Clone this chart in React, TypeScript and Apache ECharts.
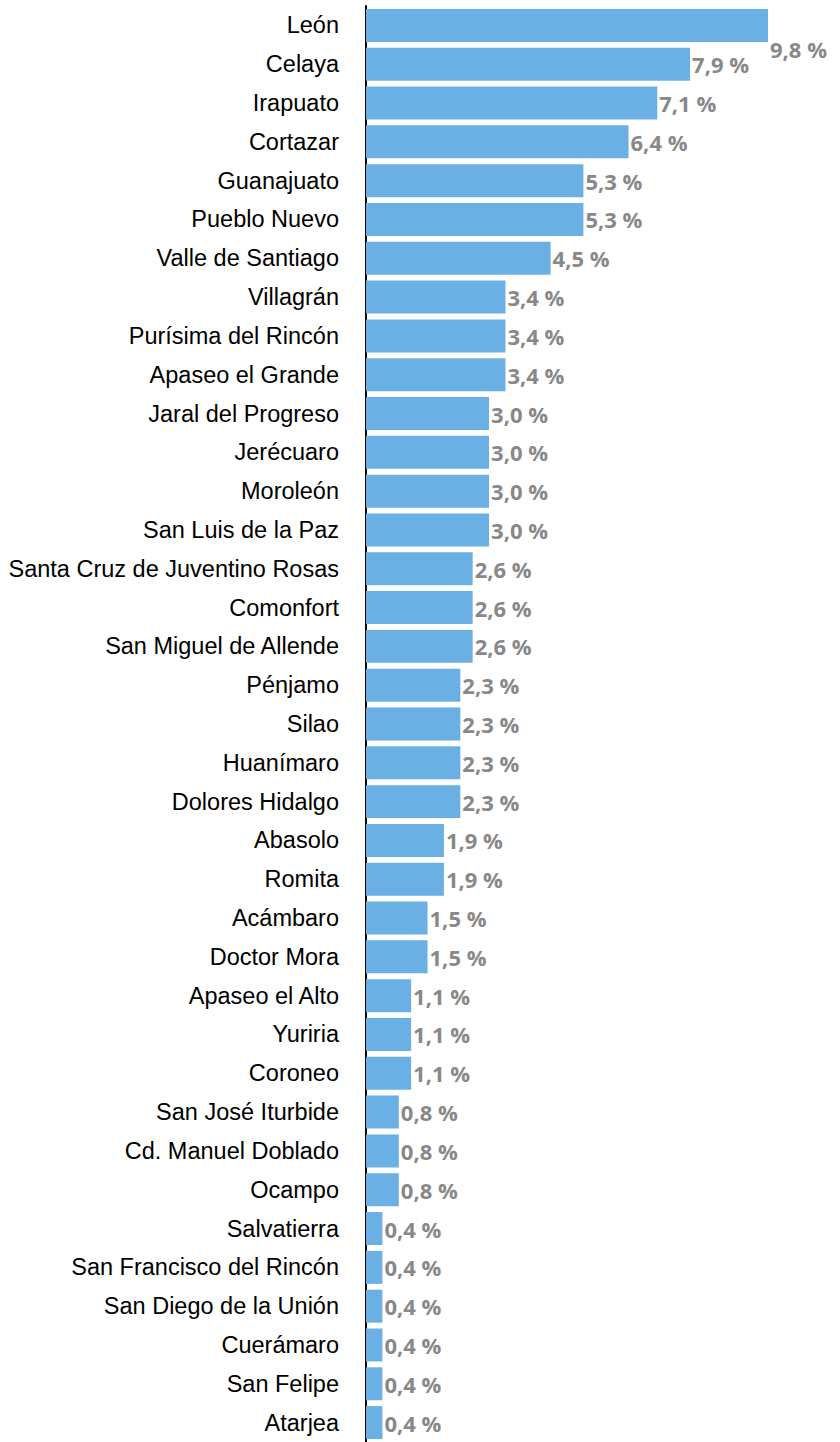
import React, { useEffect, useRef } from "react";
import * as echarts from "echarts";

const categories = [
  "León", "Celaya", "Irapuato", "Cortazar", "Guanajuato", "Pueblo Nuevo", "Valle de Santiago",
  "Villagrán", "Purísima del Rincón", "Apaseo el Grande", "Jaral del Progreso", "Jerécuaro",
  "Moroleón", "San Luis de la Paz", "Santa Cruz de Juventino Rosas", "Comonfort",
  "San Miguel de Allende", "Pénjamo", "Silao", "Huanímaro", "Dolores Hidalgo", "Abasolo",
  "Romita", "Acámbaro", "Doctor Mora", "Apaseo el Alto", "Yuriria", "Coroneo",
  "San José Iturbide", "Cd. Manuel Doblado", "Ocampo", "Salvatierra",
  "San Francisco del Rincón", "San Diego de la Unión", "Cuerámaro", "San Felipe", "Atarjea",
];

const values = [
  9.8, 7.9, 7.1, 6.4, 5.3, 5.3, 4.5, 3.4, 3.4, 3.4, 3.0, 3.0, 3.0, 3.0, 2.6, 2.6, 2.6,
  2.3, 2.3, 2.3, 2.3, 1.9, 1.9, 1.5, 1.5, 1.1, 1.1, 1.1, 0.8, 0.8, 0.8, 0.4, 0.4, 0.4,
  0.4, 0.4, 0.4,
];

export default function App() {
  const ref = useRef<HTMLDivElement>(null);
  useEffect(() => {
    document.body.style.margin = "0";
    if (!ref.current) return;
    const chart = echarts.init(ref.current, undefined, { renderer: "svg" });
    const data = values.map((v, i) =>
      i === 0
        ? { value: v, label: { offset: [0, 24] } }
        : { value: v }
    );
    chart.setOption({
      animation: false,
      grid: { left: 366, right: 72, top: 6, bottom: -5, containLabel: false },
      xAxis: {
        type: "value",
        min: 0,
        max: 9.8,
        show: false,
      },
      yAxis: {
        type: "category",
        data: categories,
        inverse: true,
        axisLine: { show: true, lineStyle: { color: "#000", width: 2 } },
        axisTick: { show: false },
        axisLabel: {
          margin: 27,
          color: "#000",
          fontFamily: "'Liberation Sans', Arial, sans-serif",
          fontSize: 23.5,
        },
        splitLine: { show: false },
      },
      series: [
        {
          type: "bar",
          data,
          barCategoryGap: "15%",
          itemStyle: { color: "#6ab0e4" },
          label: {
            show: true,
            position: "right",
            distance: 2,
            color: "#888888",
            fontFamily: "'Open Sans', sans-serif",
            fontWeight: "bold",
            fontSize: 22,
            formatter: (p: any) => p.value.toFixed(1).replace(".", ",") + " %",
          },
        },
      ],
    });
    return () => chart.dispose();
  }, []);
  return <div ref={ref} style={{ width: 840, height: 1442 }} />;
}
